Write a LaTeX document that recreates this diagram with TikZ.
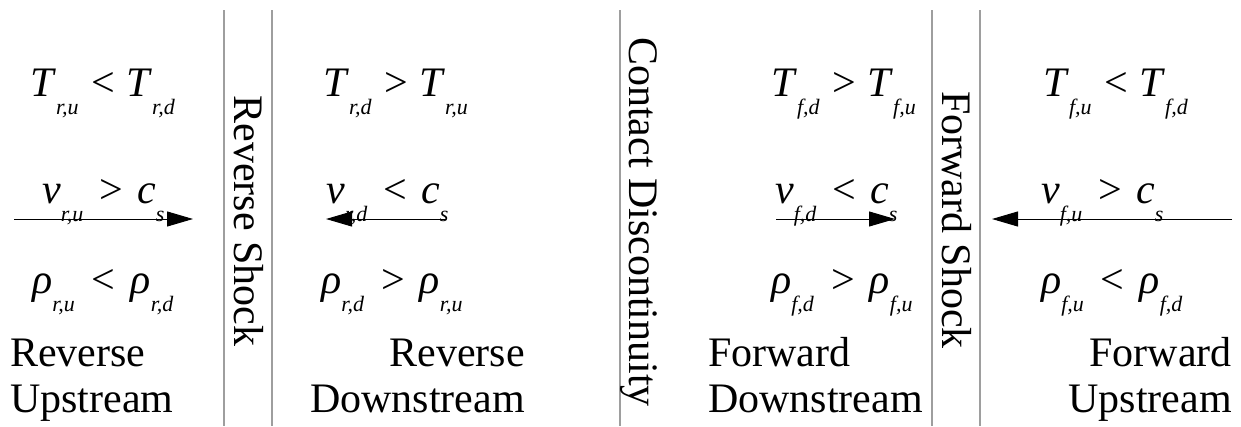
\documentclass[tikz,border=0pt]{standalone}
\usepackage{fontspec}
\setmainfont{Liberation Serif}
\usepackage{tikz}
\usetikzlibrary{arrows.meta,positioning}

\newcommand{\fq}[2]{\textit{#1}\raisebox{-18pt}{\fontsize{22}{22}\selectfont\textit{#2}}}
\newcommand{\rel}[2][0pt]{\hspace{\dimexpr13pt+#1\relax}#2\hspace{\dimexpr11pt+#1\relax}}

\begin{document}
\begin{tikzpicture}[
  x=1pt, y=-1pt,
  front/.style={draw=black!38, line width=1.4pt},
  relation/.style={inner sep=0pt, anchor=base west},
  region/.style={inner sep=0pt, anchor=base west, align=left},
  regionr/.style={inner sep=0pt, anchor=base east, align=right},
  frontlabel/.style={inner sep=0pt, anchor=base, rotate=-90},
  flow/.style={-{Triangle[length=26pt, width=15pt]}, line width=1pt},
  font=\fontsize{42}{46}\selectfont
]
\useasboundingbox (0,0) rectangle (1241,426);

\draw[front] (224,10) -- (224,426);
\draw[front] (272,10) -- (272,426);
\draw[front] (620,10) -- (620,426);
\draw[front] (932,10) -- (932,426);
\draw[front] (980,10) -- (980,426);

\node[frontlabel] (rs) at (234,221) {Reverse Shock};
\node[frontlabel] (cd) at (629,222) {Contact Discontinuity};
\node[frontlabel] (fs) at (942,220) {Forward Shock};

\node[relation] (Tru) at (30,96) {\fq{T}{r,u}\rel{<}\fq{T}{r,d}};
\node[relation] (vru) at (42,203) {\fq{v}{r,u}\rel[3pt]{>}\fq{c}{s}};
\node[relation] (rru) at (32,293) {\fq{ρ}{r,u}\rel[4pt]{<}\fq{ρ}{r,d}};

\node[relation] (Trd) at (323,96) {\fq{T}{r,d}\rel{>}\fq{T}{r,u}};
\node[relation] (vrd) at (326,203) {\fq{v}{r,d}\rel[3pt]{<}\fq{c}{s}};
\node[relation] (rrd) at (321,293) {\fq{ρ}{r,d}\rel[4pt]{>}\fq{ρ}{r,u}};

\node[relation] (Tfd) at (771,96) {\fq{T}{f,d}\rel{>}\fq{T}{f,u}};
\node[relation] (vfd) at (775,203) {\fq{v}{f,d}\rel[3pt]{<}\fq{c}{s}};
\node[relation] (rfd) at (771,293) {\fq{ρ}{f,d}\rel[4pt]{>}\fq{ρ}{f,u}};

\node[relation] (Tfu) at (1043,96) {\fq{T}{f,u}\rel{<}\fq{T}{f,d}};
\node[relation] (vfu) at (1041,203) {\fq{v}{f,u}\rel[3pt]{>}\fq{c}{s}};
\node[relation] (rfu) at (1041,293) {\fq{ρ}{f,u}\rel[4pt]{<}\fq{ρ}{f,d}};

\node[region] (ru) at (10,412) {Reverse\\Upstream};
\node[regionr] (rd) at (525,412) {Reverse\\Downstream};
\node[region] (fd) at (708,412) {Forward\\Downstream};
\node[regionr] (fu) at (1232,412) {Forward\\Upstream};

\coordinate (ru-a) at (14,219);
\coordinate (ru-b) at (193,219);
\coordinate (rd-a) at (446,219);
\coordinate (rd-b) at (326,219);
\coordinate (fd-a) at (776,219);
\coordinate (fd-b) at (895,219);
\coordinate (fu-a) at (1232,219);
\coordinate (fu-b) at (992,219);

\draw[flow] (ru-a) -- (ru-b);
\draw[flow] (rd-a) -- (rd-b);
\draw[flow] (fd-a) -- (fd-b);
\draw[flow] (fu-a) -- (fu-b);
\end{tikzpicture}
\end{document}
